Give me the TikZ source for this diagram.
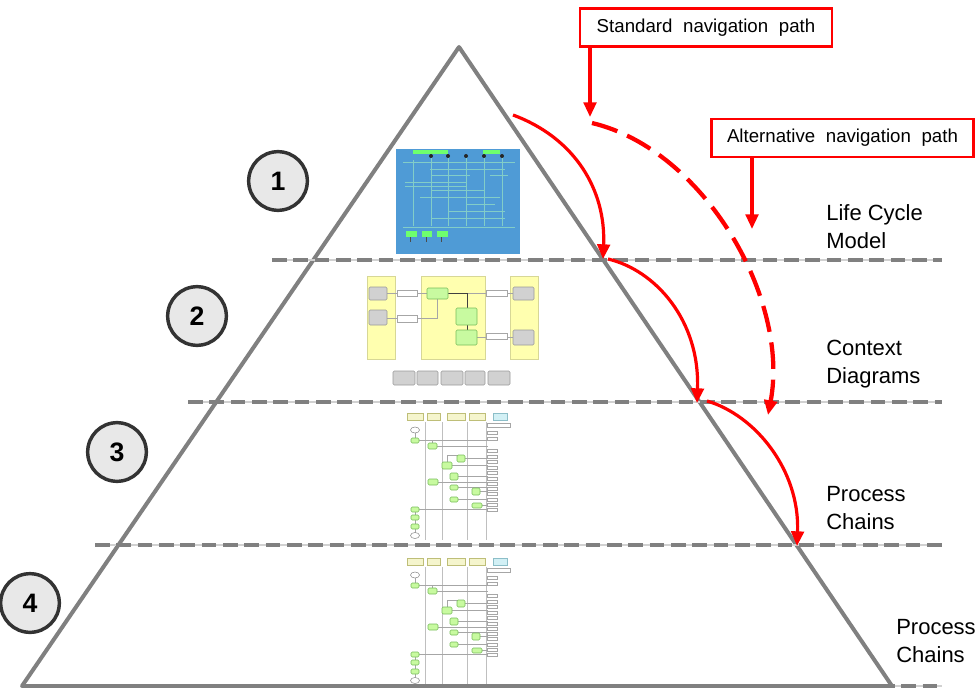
\documentclass[tikz,border=0pt]{standalone}
\usepackage{fontspec}
\setmainfont{Liberation Sans}
\usetikzlibrary{arrows.meta}
\definecolor{pyr}{RGB}{128,128,128}
\definecolor{navred}{RGB}{255,0,0}
\definecolor{lcblue}{RGB}{79,155,214}
\definecolor{lcline}{RGB}{130,205,200}
\definecolor{lcgreen}{RGB}{110,255,110}
\definecolor{ctxyellow}{RGB}{255,255,175}
\definecolor{ctxyedge}{RGB}{215,215,150}
\definecolor{stagefill}{RGB}{200,250,160}
\definecolor{stageedge}{RGB}{120,190,90}
\definecolor{hdrfill}{RGB}{245,245,205}
\definecolor{hdredge}{RGB}{190,190,120}
\definecolor{hdrcyan}{RGB}{210,240,245}
\definecolor{hdrcyanedge}{RGB}{140,190,200}

\tikzset{
  levelrule/.style={draw=pyr, line width=3pt, dash pattern=on 11pt off 5pt},
  rulebase/.style={draw=black!18, line width=1.2pt},
  numdisc/.style={circle, draw=black!80, line width=2.6pt, fill=black!9,
    minimum size=44pt, inner sep=0pt, font=\fontsize{20}{20}\selectfont\bfseries},
  pathbox/.style={draw=navred, line width=2.2pt, fill=white, inner sep=0pt,
    font=\fontsize{14}{16}\selectfont},
  levellabel/.style={anchor=west, align=left, inner sep=0pt,
    font=\fontsize{16.5}{21}\selectfont},
  navstd/.style={draw=navred, line width=2.4pt, -{Triangle[length=11pt,width=9.5pt]}},
  navalt/.style={navstd, line width=3.2pt, dash pattern=on 20pt off 8pt},
  thinline/.style={draw=black!35, line width=0.35pt},
  stagebox/.style={fill=stagefill, draw=stageedge, line width=0.4pt, rounded corners=1pt},
  greybox/.style={fill=black!18, draw=black!40, line width=0.4pt, rounded corners=1pt},
  whitebox/.style={fill=white, draw=black!35, line width=0.35pt},
}

% thumbnail of a process chain (swimlane chart)
\newcommand{\chainthumb}{%
  \foreach \a/\b in {407/423,427/440,447/465,469/485}
    \filldraw[fill=hdrfill, draw=hdredge, line width=0.4pt] (\a,413) rectangle (\b,420);
  \filldraw[fill=hdrcyan, draw=hdrcyanedge, line width=0.4pt] (493,413) rectangle (507,420);
  \foreach \x in {425,442,467,486}
    \draw[draw=black!25, line width=0.4pt] (\x,422) -- (\x,540);
  % connecting lines
  \foreach \y/\x in {440/419,446/437,458/465,465/452,476/458,482/438,487/458,491/480,499/458,505/482,509/419}
    \draw[thinline] (\x,\y) -- (488,\y);
  \draw[thinline] (415,433) -- (415,438);
  \draw[thinline] (432,443) -- (432,440);
  \draw[thinline] (447,462) -- (447,455) -- (461,455);
  \draw[thinline] (415,512) -- (415,533);
  % right-hand outputs
  \draw[whitebox] (487,423) rectangle (510,427);
  \foreach \y in {431,437,449,455,460,466,471,477,482,487,492,498,503,508}
    \draw[whitebox] (487,\y) rectangle (497,\y+3.5);
  % start and end events
  \filldraw[fill=white, draw=black!45, line width=0.4pt] (415,430) ellipse (4.5 and 3);
  \filldraw[fill=white, draw=black!45, line width=0.4pt] (415,535.5) ellipse (4.5 and 3);
  % functions
  \foreach \a/\b/\c/\d in {411/438/419/443, 428/443/437/449, 457/455/465/462,
      442/462/452/469, 450/473/458/480, 428/479/438/485, 450/485/458/490,
      472/488/480/495, 450/497/458/502, 472/503/482/508,
      411/507/419/512, 411/515/419/520, 411/524/419/529}
    \draw[stagebox] (\a,\b) rectangle (\c,\d);
}

\begin{document}
\begin{tikzpicture}[x=0.75pt, y=-0.75pt, line cap=butt]
\useasboundingbox (0,0) rectangle (977,688);

% ---------- level 1: life cycle model ----------
\fill[lcblue] (396,149) rectangle (520,254);
\fill[lcgreen] (413,150) rectangle (448,154);
\fill[lcgreen] (483,150) rectangle (500,154);
\foreach \x in {431,448,466,484,502} {
  \draw[lcline, line width=0.4pt] (\x,158) -- (\x,226);
  \fill[black!85] (\x,156) circle (2);
}
\draw[lcline, line width=0.4pt] (413,160) -- (413,226);
\foreach \a/\y/\b in {403/162/515, 430/169/505, 431/175/470, 490/175/508,
    405/182/466, 405/186/466, 431/190/484, 420/197/500, 466/204/495,
    448/211/505, 431/218/505, 403/227/515}
  \draw[lcline, line width=0.4pt] (\a,\y) -- (\b,\y);
\foreach \a/\b in {406/417, 422/432, 437/448} {
  \fill[lcgreen] (\a,231) rectangle (\b,237);
  \draw[black!70, line width=0.4pt] (\a+4,237) -- (\a+4,242);
}

% ---------- level 2: context diagram ----------
\foreach \a/\b in {367/395, 421/485, 510/538}
  \filldraw[fill=ctxyellow, draw=ctxyedge, line width=0.4pt] (\a,276) rectangle (\b,359);
\draw[thinline] (387,293) -- (397,293);
\draw[thinline] (417,293) -- (427,293);
\draw[thinline] (387,318) -- (397,318);
\draw[thinline] (417,318) -- (437,318) -- (437,299);
\draw[thinline] (448,293) -- (486,293);
\draw[thinline] (507,293) -- (513,293);
\draw[thinline] (477,337) -- (486,337);
\draw[thinline] (507,337) -- (513,337);
\draw[black!75, line width=0.6pt] (448,293) -- (467,293) -- (467,308);
\draw[black!75, line width=0.6pt] (467,325) -- (467,330);
\foreach \a/\b/\c/\d in {369/287/387/300, 369/310/387/325, 513/287/534/300, 513/330/534/345}
  \draw[greybox] (\a,\b) rectangle (\c,\d);
\foreach \a/\b/\c/\d in {397/290/417/296, 397/315/417/322, 486/290/507/296, 486/333/507/339}
  \draw[whitebox] (\a,\b) rectangle (\c,\d);
\foreach \a/\b/\c/\d in {427/288/448/299, 456/308/477/325, 456/330/477/345}
  \draw[stagebox] (\a,\b) rectangle (\c,\d);
\foreach \a/\b in {393/415, 417/438, 441/463, 465/485, 488/510}
  \draw[greybox] (\a,371) rectangle (\b,385);

% ---------- levels 3 and 4: process chains ----------
\chainthumb
\begin{scope}[shift={(0,145)}]
  \chainthumb
\end{scope}

% ---------- pyramid ----------
\draw[pyr, line width=3pt, line join=round] (459,47) -- (892,686) -- (22,686) -- cycle;
\foreach \a/\y in {272/260, 188/402, 95/545, 880/686} {
  \draw[rulebase] (\a,\y) -- (942,\y);
  \draw[levelrule] (\a,\y) -- (942,\y);
}

% ---------- level numbers ----------
\node[numdisc] (n1) at (278,181) {1};
\node[numdisc] (n2) at (197,316) {2};
\node[numdisc] (n3) at (117,452) {3};
\node[numdisc] (n4) at (30,603) {4};

% ---------- level names ----------
\node[levellabel] (lcm) at (826,227) {Life Cycle\\Model};
\node[levellabel] (ctx) at (826,364) {Context\\Diagrams};
\node[levellabel] (pc1) at (826,508) {Process\\Chains};
\node[levellabel] (pc2) at (896,641) {Process\\Chains};

% ---------- navigation paths ----------
\node[pathbox, minimum width=189pt, minimum height=29pt] (std) at (706,27.5)
  {Standard\hskip 8pt navigation\hskip 8pt path};
\node[pathbox, minimum width=197pt, minimum height=28.5pt] (alt) at (842.5,138)
  {Alternative\hskip 8pt navigation\hskip 8pt path};

\coordinate (stdtip) at (590,117);
\coordinate (alttip) at (752,229);
\draw[navstd] (std.south west -| stdtip) -- (stdtip);
\draw[navstd] (alt.south west -| alttip) -- (alttip);

\coordinate (s0) at (513,115);
\coordinate (s1) at (603,259);
\coordinate (s1b) at (608,259);
\coordinate (s2) at (697,403);
\coordinate (s2b) at (707,401);
\coordinate (s3) at (797,546);
\draw[navstd] (s0) .. controls (575,138) and (606,190) .. (s1);
\draw[navstd] (s1b) .. controls (655,270) and (700,320) .. (s2);
\draw[navstd] (s2b) .. controls (755,415) and (800,470) .. (s3);

\coordinate (a0) at (592,123);
\coordinate (a1) at (768,415);
\draw[navalt] (a0) .. controls (705,150) and (790,300) .. (a1);
\end{tikzpicture}
\end{document}
